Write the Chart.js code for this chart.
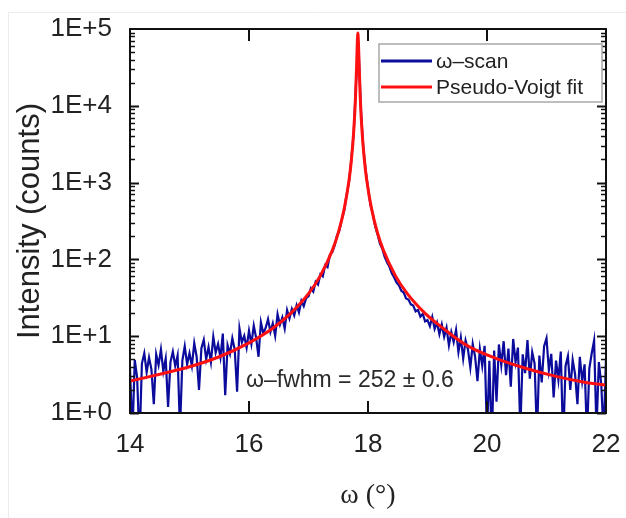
<!DOCTYPE html>
<html>
<head>
<meta charset="utf-8">
<script src="https://cdn.jsdelivr.net/npm/chart.js@4/dist/chart.umd.min.js"></script>
<style>
html,body{margin:0;padding:0;background:#fff;}
#wrap{width:626px;height:518px;position:relative;}
</style>
</head>
<body>
<div id="wrap"><canvas id="c" width="626" height="518"></canvas></div>
<script>
// ---- data ----
const omegaStart = 14.0;   // first scan angle (deg)
const omegaStep = 0.04;    // scan step (deg)
const scanIntensity = [
  3.8, 0.5, 4.9, 2.9, 0.4, 4.4, 6.0, 3.4, 5.3, 3.7, 1.3, 5.8, 4.2, 6.7, 3.5, 5.1, 1.2, 4.6, 6.3, 4.1, 5.6, 0.6, 4.8, 7.4, 4.3,
  6.0, 4.1, 8.1, 5.4, 2.0, 7.0, 9.0, 5.0, 7.2, 4.6, 9.8, 6.1, 7.9, 5.3, 10.8, 1.7, 7.6, 5.9, 9.4, 6.7, 1.9, 12.6, 8.3, 10.1, 7.1,
  11.8, 7.9, 13.7, 9.5, 5.4, 15.2, 10.9, 12.8, 16.7, 11.4, 14.7, 10.1, 19.4, 14.1, 17.5, 12.6, 21.8, 17.0, 22.6, 18.6, 25.3, 20.4, 28.9, 24.6, 31.2,
  33, 42, 38, 51, 47, 64, 60, 84, 79, 115, 124, 152, 205, 238, 335,
  430, 690, 1000, 2000, 4500, 21000, 63000, 9000, 2950, 1450, 860, 520, 395, 270, 212, 160, 138, 108, 92, 80, 66, 58, 50, 46, 39, 37, 31, 30, 26, 25, 21, 22, 18, 19.5, 15.6,
  16.2, 13.5, 17.8, 12.4, 15.1, 10.6, 14.2, 9.8, 12.9, 7.6, 11.3, 8.4, 12.1, 6.2, 9.6, 5.1, 8.8, 6.7, 3.9, 7.9, 5.4, 2.6, 6.8, 4.1, 7.5,
  0.5, 4.8, 0.4, 6.5, 1.4, 7.8, 4.2, 8.6, 3.1, 6.9, 2.2, 9.2, 4.6, 7.1, 0.6, 5.8, 3.3, 8.9, 2.8, 6.2, 4.4, 0.5, 5.6, 2.5, 7.4,
  9.4, 3.6, 5.9, 1.6, 4.8, 2.7, 6.3, 0.4, 4.1, 5.5, 2.0, 4.9, 3.2, 1.3, 5.4, 2.6, 4.3, 0.5, 3.8, 6.0, 8.8, 0.6, 4.6, 2.4, 0.5, 5.2
];
const fitOmega = [14.0, 14.5, 15.0, 15.5, 16.0, 16.4, 16.7, 17.0, 17.2, 17.4, 17.5, 17.6, 17.68, 17.72, 17.76, 17.79, 17.81, 17.82, 17.83,
                  17.84, 17.85, 17.87, 17.90, 17.94, 17.98, 18.06, 18.16, 18.26, 18.46, 18.66, 18.96, 19.26, 19.66, 20.16, 20.66, 21.16, 21.66, 22.0];
const fitIntensity = [2.6, 3.2, 4.0, 5.4, 8.2, 12.7, 19.8, 35.8, 61.5, 131, 221, 455, 1055, 1940, 4640, 12830, 35820, 64870, 88900,
                      64870, 35820, 12830, 4640, 1940, 1055, 455, 221, 131, 61.5, 35.8, 19.8, 12.7, 7.6, 5.1, 3.8, 3.0, 2.5, 2.3];
const xTicks = [14, 16, 18, 20, 22];
const yTicks = [1, 10, 100, 1000, 10000, 100000];
const yTickLabels = ['1E+0', '1E+1', '1E+2', '1E+3', '1E+4', '1E+5'];
const seriesLabels = ['ω–scan', 'Pseudo-Voigt fit'];
const annotationText = 'ω–fwhm = 252 ± 0.6';
const annotationAt = {x: 15.95, y: 2.6};

// ---- chart ----
const SANS = '"Liberation Sans", Arial, sans-serif';
const SERIF = '"Liberation Serif", "Times New Roman", serif';
const blue = '#0b0b9c';
const red = '#ff1010';

const scanPoints = scanIntensity.map((v, i) => ({x: omegaStart + i * omegaStep, y: v}));
const fitPoints = fitOmega.map((o, i) => ({x: o, y: fitIntensity[i]}));

function drawFrame(chart) {
  const {ctx, chartArea: a, scales} = chart;
  const xs = scales.x, ys = scales.y;
  ctx.save();
  ctx.strokeStyle = '#111';
  ctx.lineWidth = 2;
  ctx.strokeRect(a.left, a.top, a.right - a.left, a.bottom - a.top);
  const seg = (x1, y1, x2, y2) => { ctx.beginPath(); ctx.moveTo(x1, y1); ctx.lineTo(x2, y2); ctx.stroke(); };
  xTicks.forEach(v => {
    const px = Math.round(xs.getPixelForValue(v));
    seg(px, a.bottom, px, a.bottom - 12);
    seg(px, a.top, px, a.top + 12);
  });
  for (let k = 0; k < 5; k++) {
    for (let m = 1; m <= 9; m++) {
      const v = m * Math.pow(10, k);
      const py = Math.round(ys.getPixelForValue(v)) + 0.5;
      const len = m === 1 ? 9 : 5;
      ctx.lineWidth = m === 1 ? 2 : 1.5;
      seg(a.left, py, a.left + len, py);
      seg(a.right, py, a.right - len, py);
    }
  }
  ctx.restore();
}

const decor = {
  id: 'decor',
  beforeDraw(chart) {
    const ctx = chart.ctx;
    ctx.save();
    ctx.fillStyle = '#fff';
    ctx.fillRect(0, 0, chart.width, chart.height);
    ctx.strokeStyle = '#ececec';
    ctx.lineWidth = 1;
    ctx.beginPath();
    ctx.moveTo(8.5, 518); ctx.lineTo(8.5, 12.5); ctx.lineTo(626, 12.5);
    ctx.stroke();
    ctx.restore();
  },
  afterDraw(chart) {
    drawFrame(chart);
    const {ctx, scales} = chart;
    ctx.save();
    // legend
    const bx = 379, by = 44, bw = 223, bh = 58;
    ctx.fillStyle = '#fff';
    ctx.fillRect(bx, by, bw, bh);
    ctx.strokeStyle = '#a8a8a8';
    ctx.lineWidth = 1.5;
    ctx.strokeRect(bx, by, bw, bh);
    const rows = [61, 87];
    chart.data.datasets.forEach((ds, i) => {
      ctx.strokeStyle = ds.borderColor;
      ctx.lineWidth = 3;
      ctx.beginPath(); ctx.moveTo(381, rows[i]); ctx.lineTo(432, rows[i]); ctx.stroke();
      ctx.fillStyle = '#222';
      ctx.font = '21px ' + SANS;
      ctx.textBaseline = 'middle';
      ctx.textAlign = 'left';
      ctx.fillText(ds.label, 436, rows[i] + 1);
    });
    // annotation
    ctx.fillStyle = '#2a2a2a';
    ctx.font = '23px ' + SANS;
    ctx.textBaseline = 'middle';
    ctx.textAlign = 'left';
    ctx.fillText(annotationText, scales.x.getPixelForValue(annotationAt.x), scales.y.getPixelForValue(annotationAt.y));
    ctx.restore();
  }
};

new Chart(document.getElementById('c'), {
  type: 'line',
  data: {
    datasets: [
      {label: seriesLabels[0], data: scanPoints, borderColor: blue, borderWidth: 2.2, pointRadius: 0, tension: 0, order: 1},
      {label: seriesLabels[1], data: fitPoints, borderColor: red, borderWidth: 3, pointRadius: 0, cubicInterpolationMode: 'monotone', order: 0}
    ]
  },
  options: {
    responsive: false,
    devicePixelRatio: 1,
    animation: false,
    layout: {padding: {left: 8, top: 29, right: 20, bottom: 0}},
    plugins: {legend: {display: false}, tooltip: {enabled: false}},
    scales: {
      x: {
        type: 'linear', min: 14, max: 22,
        afterBuildTicks: s => { s.ticks = xTicks.map(v => ({value: v})); },
        afterFit: s => { s.height = 105; s.paddingLeft = 0; s.paddingRight = 0; },
        grid: {display: false}, border: {display: false},
        ticks: {padding: 8, color: '#222', font: {family: SANS, size: 26}, maxRotation: 0, autoSkip: false,
                callback: v => String(v)},
        title: {display: true, text: 'ω (°)', color: '#222', font: {family: SERIF, size: 28}, padding: {top: 0, bottom: 6}}
      },
      y: {
        type: 'logarithmic', min: 1, max: 100000,
        afterBuildTicks: s => { s.ticks = yTicks.map(v => ({value: v})); },
        afterFit: s => { s.width = 122; s.paddingTop = 0; s.paddingBottom = 0; },
        grid: {display: false}, border: {display: false},
        ticks: {padding: 10, color: '#222', font: {family: SANS, size: 26},
                callback: v => yTickLabels[yTicks.indexOf(v)]},
        title: {display: true, text: 'Intensity (counts)', color: '#222', font: {family: SANS, size: 31}, padding: {top: 4, bottom: 0}}
      }
    }
  },
  plugins: [decor]
});
</script>
</body>
</html>
